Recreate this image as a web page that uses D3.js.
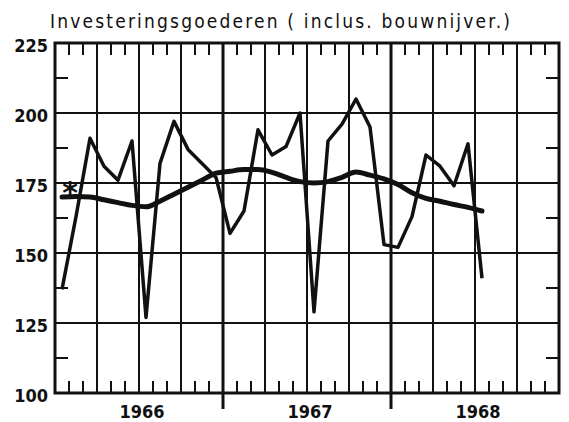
<!DOCTYPE html>
<html>
<head>
<meta charset="utf-8">
<script src="https://cdn.jsdelivr.net/npm/d3@7"></script>
<style>
  body { margin: 0; background: #fff; }
  svg { display: block; }
</style>
</head>
<body>
<div id="chart"></div>
<script>
// data (monthly, Jan 1966 .. Jul 1968)
const years = ['1966', '1967', '1968'];
const yTicks = [100, 125, 150, 175, 200, 225];
const monthly = [137, 163, 191, 181, 176, 190, 127, 182, 197, 187, 182, 177,
                 157, 165, 194, 185, 188, 200, 129, 190, 196, 205, 195, 153,
                 152, 163, 185, 181, 174, 189, 141];
const trend = [170, 170.2, 170, 169, 168, 167, 166.5, 168.5, 171, 173.5, 176, 178.5,
               179.2, 179.8, 179.8, 178.8, 177, 175.5, 175, 175.5, 177, 178.9, 177.8, 176.5,
               174.5, 171.5, 169.5, 168.5, 167.3, 166.3, 165];
const title = 'Investeringsgoederen ( inclus. bouwnijver.)';
const marker = '*';

const width = 569, height = 422;
const margin = {top: 43, right: 10, bottom: 29, left: 55};
const ink = '#111';

const svg = d3.select('#chart')
    .append('svg')
    .attr('width', width)
    .attr('height', height);

const nMonths = years.length * 12;

const xScale = d3.scaleLinear()
    .domain([0, nMonths])
    .range([margin.left, width - margin.right]);

const yScale = d3.scaleLinear()
    .domain([100, 225])
    .range([height - margin.bottom, margin.top]);

const x0 = xScale(0), x1 = xScale(nMonths);
const y0 = yScale(100), y1 = yScale(225);

// title
svg.append('text')
    .attr('x', 50)
    .attr('y', 28)
    .attr('textLength', 460)
    .attr('lengthAdjust', 'spacing')
    .style('font-family', 'DejaVu Sans Condensed, DejaVu Sans, sans-serif')
    .style('font-size', '19px')
    .attr('fill', ink)
    .text(title);

// horizontal gridlines
const grid = svg.append('g');
grid.selectAll('line.h')
    .data(yTicks.filter(d => d > 100 && d < 225))
    .join('line')
    .attr('class', 'h')
    .attr('x1', x0).attr('x2', x1)
    .attr('y1', d => yScale(d)).attr('y2', d => yScale(d))
    .attr('stroke', ink).attr('stroke-width', 2);

// vertical gridlines every quarter
const quarters = d3.range(3, nMonths, 3);
grid.selectAll('line.v')
    .data(quarters)
    .join('line')
    .attr('class', 'v')
    .attr('x1', d => xScale(d)).attr('x2', d => xScale(d))
    .attr('y1', y1)
    .attr('y2', d => d % 12 === 0 ? y0 + 16 : y0)
    .attr('stroke', ink)
    .attr('stroke-width', d => d % 12 === 0 ? 3 : 2);

// monthly minor ticks, top and bottom
const minor = d3.range(1, nMonths).filter(m => m % 3 !== 0);
grid.selectAll('line.tb')
    .data(minor)
    .join('line')
    .attr('class', 'tb')
    .attr('x1', d => xScale(d)).attr('x2', d => xScale(d))
    .attr('y1', y0).attr('y2', y0 - 12)
    .attr('stroke', ink).attr('stroke-width', 2);
grid.selectAll('line.tt')
    .data(minor)
    .join('line')
    .attr('class', 'tt')
    .attr('x1', d => xScale(d)).attr('x2', d => xScale(d))
    .attr('y1', y1).attr('y2', y1 + 12)
    .attr('stroke', ink).attr('stroke-width', 2);

// half-step ticks on left and right
const halfSteps = d3.range(112.5, 225, 25);
grid.selectAll('line.tl')
    .data(halfSteps)
    .join('line')
    .attr('class', 'tl')
    .attr('x1', x0).attr('x2', x0 + 13)
    .attr('y1', d => yScale(d)).attr('y2', d => yScale(d))
    .attr('stroke', ink).attr('stroke-width', 2);
grid.selectAll('line.tr')
    .data(halfSteps)
    .join('line')
    .attr('class', 'tr')
    .attr('x1', x1).attr('x2', x1 - 13)
    .attr('y1', d => yScale(d)).attr('y2', d => yScale(d))
    .attr('stroke', ink).attr('stroke-width', 2);

// frame
svg.append('rect')
    .attr('x', x0).attr('y', y1)
    .attr('width', x1 - x0).attr('height', y0 - y1)
    .attr('fill', 'none')
    .attr('stroke', ink).attr('stroke-width', 3);

// y labels
svg.append('g')
    .selectAll('text')
    .data(yTicks)
    .join('text')
    .attr('x', 48)
    .attr('y', d => yScale(d) + 9)
    .attr('text-anchor', 'end')
    .style('font-family', 'DejaVu Sans Condensed, DejaVu Sans, sans-serif')
    .style('font-weight', 'bold')
    .style('font-size', '18px')
    .attr('fill', ink)
    .text(d => d);

// year labels
svg.append('g')
    .selectAll('text')
    .data(years)
    .join('text')
    .attr('x', (d, i) => xScale(i * 12 + 6) + 3)
    .attr('y', 418)
    .attr('text-anchor', 'middle')
    .style('font-family', 'DejaVu Sans Condensed, DejaVu Sans, sans-serif')
    .style('font-weight', 'bold')
    .style('font-size', '18px')
    .attr('fill', ink)
    .text(d => d);

// series lines
const monthLine = d3.line()
    .x((d, i) => xScale(i + 0.5))
    .y(d => yScale(d));

const trendLine = d3.line()
    .x((d, i) => xScale(i + 0.5))
    .y(d => yScale(d))
    .curve(d3.curveMonotoneX);

svg.append('path')
    .datum(trend)
    .attr('fill', 'none')
    .attr('stroke', ink)
    .attr('stroke-width', 5)
    .attr('stroke-linecap', 'round')
    .attr('d', trendLine);

svg.append('path')
    .datum(monthly)
    .attr('fill', 'none')
    .attr('stroke', ink)
    .attr('stroke-width', 3.5)
    .attr('stroke-linejoin', 'round')
    .attr('d', monthLine);

// asterisk next to the first trend point
svg.append('text')
    .attr('x', xScale(0.5) + 8)
    .attr('y', yScale(175) + 20)
    .attr('text-anchor', 'middle')
    .style('font-family', 'DejaVu Sans, sans-serif')
    .style('font-weight', 'bold')
    .style('font-size', '30px')
    .attr('fill', ink)
    .text(marker);
</script>
</body>
</html>
